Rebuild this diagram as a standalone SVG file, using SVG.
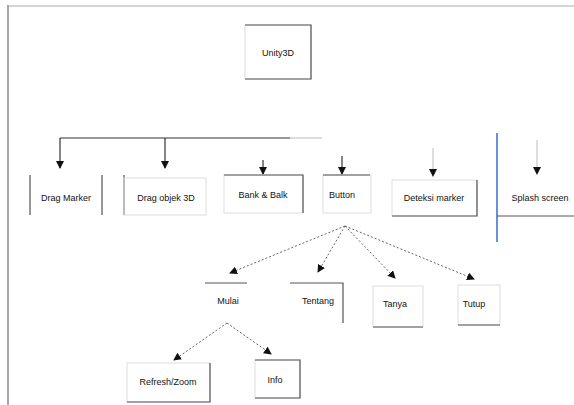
<svg xmlns="http://www.w3.org/2000/svg" width="574" height="405" viewBox="0 0 574 405">
<defs>
<style>
.t{font-family:"Liberation Sans",Arial,sans-serif;font-size:9px;fill:#111;text-anchor:middle}
.b{stroke:#555;stroke-width:1.2;fill:none}
.f{stroke:#ddd;stroke-width:1;fill:none}
.c{stroke:#333;stroke-width:1.2;fill:none}
.g{stroke:#bbb;stroke-width:1;fill:none}
.h{fill:#111}
.d{stroke:#666;stroke-width:1;fill:none;stroke-dasharray:2 2}
</style>
<marker id="ah" markerWidth="8" markerHeight="8" refX="7" refY="4" orient="auto" markerUnits="userSpaceOnUse">
<path d="M0,0 L8,4 L0,8 z" fill="#111"/>
</marker>
</defs>
<rect width="574" height="405" fill="#fff"/>
<g id="frame">
<line x1="8" y1="5" x2="8" y2="405" stroke="#888" stroke-width="1.5"/>
<line x1="8" y1="6" x2="574" y2="6" stroke="#aaa" stroke-width="1"/>
<line x1="497" y1="133" x2="497" y2="242" stroke="#3a6fc4" stroke-width="1.5"/>
</g>
<g id="connectors">
<path class="c" d="M60,138 H290"/>
<path class="g" d="M290,138 H322"/>
<path class="c" d="M60,138 V168" marker-end="url(#ah)"/>
<path class="c" d="M165,138 V168" marker-end="url(#ah)"/>
<path class="c" d="M263,160 V174" marker-end="url(#ah)"/>
<path class="c" d="M342,156 V174" marker-end="url(#ah)"/>
<path class="g" d="M433,148 V170"/>
<polygon class="h" points="429,169 437,169 433,177"/>
<path class="g" d="M537,140 V168"/>
<polygon class="h" points="533,167 541,167 537,175"/>
<path class="d" d="M345,226 L230,273" marker-end="url(#ah)"/>
<path class="d" d="M345,226 L318,272" marker-end="url(#ah)"/>
<path class="d" d="M345,226 L395,278" marker-end="url(#ah)"/>
<path class="d" d="M345,226 L474,279" marker-end="url(#ah)"/>
<path class="d" d="M227,323 L174,360" marker-end="url(#ah)"/>
<path class="d" d="M227,323 L271,354" marker-end="url(#ah)"/>
</g>
<g id="unity3d">
<rect class="f" x="245" y="25" width="66" height="54"/>
<path class="b" d="M245,25 H311 V79 H245"/>
<text class="t" x="278" y="56">Unity3D</text>
</g>
<g id="drag-marker">
<path class="b" d="M30,175 V215 M102,175 V215"/>
<text class="t" x="66" y="201">Drag Marker</text>
</g>
<g id="drag-objek">
<path class="b" d="M124,175 V215"/>
<rect class="f" x="124" y="178" width="82" height="37"/>
<text class="t" x="166" y="201">Drag objek 3D</text>
</g>
<g id="bank-balk">
<rect class="f" x="224" y="175" width="79" height="38"/>
<path class="b" d="M224,175 H303 V213"/>
<text class="t" x="263" y="198">Bank &amp; Balk</text>
</g>
<g id="button">
<rect class="f" x="323" y="175" width="48" height="38"/>
<path class="b" d="M323,175 H370"/>
<text class="t" x="342" y="198">Button</text>
</g>
<g id="deteksi-marker">
<rect class="f" x="392" y="180" width="85" height="36"/>
<path class="b" d="M392,216 H477 V180"/>
<text class="t" x="434" y="201">Deteksi marker</text>
</g>
<g id="splash-screen">
<path class="b" d="M497,216 H574"/>
<text class="t" x="540" y="201">Splash screen</text>
</g>
<g id="mulai">
<path class="b" d="M205,283 H247"/>
<text class="t" x="228" y="304">Mulai</text>
</g>
<g id="tentang">
<path class="b" d="M290,283 H343 V323"/>
<text class="t" x="318" y="304">Tentang</text>
</g>
<g id="tanya">
<rect class="f" x="373" y="286" width="50" height="41"/>
<path class="b" d="M373,327 H423"/>
<text class="t" x="395" y="307">Tanya</text>
</g>
<g id="tutup">
<rect class="f" x="458" y="285" width="42" height="40"/>
<path class="b" d="M458,325 H500"/>
<text class="t" x="474" y="307">Tutup</text>
</g>
<g id="refresh-zoom">
<rect class="f" x="127" y="363" width="83" height="39"/>
<path class="b" d="M210,363 V402 H127"/>
<text class="t" x="168" y="385">Refresh/Zoom</text>
</g>
<g id="info">
<rect class="f" x="255" y="360" width="45" height="38"/>
<path class="b" d="M255,360 H300 V398 H255"/>
<text class="t" x="275" y="383">Info</text>
</g>
</svg>
